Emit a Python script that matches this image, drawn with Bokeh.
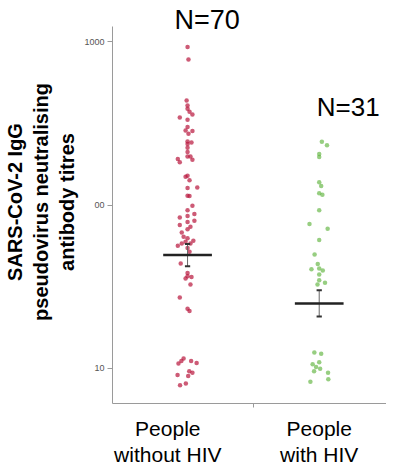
from bokeh.plotting import figure
from bokeh.models import Range1d, LinearAxis, FixedTicker, Label, ColumnDataSource
from bokeh.embed import file_html
from bokeh.resources import INLINE

# ---------------- data ----------------
group_x = [1, 2]
group_line1 = ["People", "People"]
group_line2 = ["without HIV", "with HIV"]
n_labels = ["N=70", "N=31"]

titres_without_hiv = [928, 776, 436, 407, 388, 372, 358, 343, 332, 300,
                      286, 284, 273, 245, 241, 236, 224, 211, 198, 198,
                      191.5, 189, 183, 151, 149, 142, 127, 128, 114, 113.6,
                      99, 93, 88, 85.6, 84, 80, 78.6, 75.4, 73.6, 71.2,
                      68, 63.9, 62.7, 60.4, 59.5, 58.2, 58.2, 56.3, 54.5, 51.7,
                      43.9, 38.4, 36.7, 36.3, 35.5, 32.6, 27.2, 23.2, 22.5,
                      11.5, 11.1, 11.1, 10.8, 10.7, 9.6, 9.4, 9.1, 9.0, 7.9, 8.1]
jitter_without_hiv = [0.0, 0.007, -0.007, 0.0, 0.0, 0.015, 0.037, -0.059, 0.0, 0.0,
                      -0.015, 0.037, 0.007, 0.0, 0.03, 0.0, 0.0, 0.0, 0.0, 0.022,
                      -0.074, 0.037, -0.059, 0.0, -0.015, 0.015, 0.0, 0.074, 0.0, 0.015,
                      0.037, 0.0, 0.052, 0.0, -0.059, 0.052, 0.0, -0.059, 0.022, 0.0,
                      -0.044, -0.03, 0.0, 0.044, -0.015, 0.022, -0.044, -0.074, 0.0, 0.015,
                      -0.052, 0.0, 0.0, 0.03, -0.015, 0.022, -0.059, 0.0, 0.015,
                      -0.03, -0.047, 0.027, 0.069, -0.069, 0.013, 0.037, -0.076, 0.005, -0.057, -0.013]

titres_with_hiv = [243.5, 232.5, 205.5, 197, 137.8, 130.8, 118, 115.7, 93, 76.5,
                   71.5, 61, 49.8, 43.5, 40.9, 40.5, 39.8, 37.6, 34.7, 33.4,
                   32.6, 12.5, 12.3, 10.9, 10.6, 10.2, 9.96, 9.6, 9.4, 8.6, 8.3]
jitter_with_hiv = [0.02, 0.059, 0.0, 0.0, 0.0, 0.015, 0.0, 0.024, 0.0, -0.074,
                   0.064, 0.0, -0.035, -0.011, 0.0, -0.059, 0.027, 0.0, 0.0, 0.044,
                   -0.013, -0.037, 0.015, 0.0, -0.05, -0.024, 0.007, -0.039, 0.067, 0.069, -0.067]

means = [49.4, 25.0]
ci_low = [42.2, 20.8]
ci_high = [57.7, 30.1]

y_ticks = [10, 100, 1000]
y_tick_labels = ["10", "00", "1000"]
y_axis_bounds = (6.1, 1236)

FONT = "Liberation Sans"

# ---------------- figure ----------------
p = figure(width=386, height=468, y_axis_type="log",
           x_range=Range1d(0.43, 2.511), y_range=Range1d(6.1, 1785),
           output_backend="svg", toolbar_location=None,
           min_border_left=105, min_border_right=0, min_border_top=0,
           min_border_bottom=0)
p.outline_line_color = None
p.xgrid.visible = False
p.ygrid.visible = False
p.background_fill_color = "white"

# y axis
ya = p.yaxis[0]
ya.bounds = y_axis_bounds
ya.ticker = FixedTicker(ticks=y_ticks, minor_ticks=[])
ya.major_label_overrides = {t: l for t, l in zip(y_ticks, y_tick_labels)}
ya.axis_line_color = "#9a9a9a"
ya.major_tick_line_color = "#9a9a9a"
ya.major_tick_out = 5
ya.major_tick_in = 0
ya.minor_tick_out = 0
ya.minor_tick_in = 0
ya.major_label_standoff = 3
ya.major_label_text_font = FONT
ya.major_label_text_font_size = "9px"
ya.major_label_text_color = "#555555"
ya.axis_label = "SARS-CoV-2 IgG\npseudovirus neutralising\nantibody titres"
ya.axis_label_text_font = FONT
ya.axis_label_text_font_style = "bold"
ya.axis_label_text_font_size = "20px"
ya.axis_label_text_color = "black"
ya.axis_label_standoff = 3

# x axis (first line of category labels)
xa = p.xaxis[0]
xa.ticker = FixedTicker(ticks=[0.85, 2.0], minor_ticks=[1.5])
xa.major_label_overrides = {0.85: group_line1[0], 2.0: group_line1[1]}
xa.axis_line_color = "#9a9a9a"
xa.major_tick_out = 0
xa.major_tick_in = 0
xa.minor_tick_out = 4
xa.minor_tick_in = 0
xa.minor_tick_line_color = "#9a9a9a"
xa.major_label_standoff = 9
xa.major_label_text_font = FONT
xa.major_label_text_font_size = "21px"
xa.major_label_text_color = "black"

# second line of category labels
xb = LinearAxis(ticker=FixedTicker(ticks=[0.85, 2.0], minor_ticks=[]),
                major_label_overrides={0.85: group_line2[0], 2.0: group_line2[1]})
xb.axis_line_color = None
xb.major_tick_out = 0
xb.major_tick_in = 0
xb.minor_tick_out = 0
xb.minor_tick_in = 0
xb.major_label_standoff = 0
xb.major_label_text_font = FONT
xb.major_label_text_font_size = "21px"
xb.major_label_text_color = "black"
p.add_layout(xb, "below")

# points
src1 = ColumnDataSource(dict(x=[group_x[0] + j for j in jitter_without_hiv], y=titres_without_hiv))
src2 = ColumnDataSource(dict(x=[group_x[1] + j for j in jitter_with_hiv], y=titres_with_hiv))
p.scatter("x", "y", source=src1, size=4.5, fill_color="#b8163c", fill_alpha=0.7, line_color=None)
p.scatter("x", "y", source=src2, size=4.5, fill_color="#5fb33e", fill_alpha=0.65, line_color=None)

# error bars
p.segment(x0=group_x, y0=ci_low, x1=group_x, y1=ci_high, line_color="#666666", line_width=1)
cap = 0.02
p.segment(x0=[g - cap for g in group_x], y0=ci_low, x1=[g + cap for g in group_x], y1=ci_low,
          line_color="#333333", line_width=2)
p.segment(x0=[g - cap for g in group_x], y0=ci_high, x1=[g + cap for g in group_x], y1=ci_high,
          line_color="#333333", line_width=2)
# means
half = 0.185
p.segment(x0=[g - half for g in group_x], y0=means, x1=[g + half for g in group_x], y1=means,
          line_color="#222222", line_width=2.5)

# N labels
p.add_layout(Label(x=1.148, y=1365, text=n_labels[0], text_align="center",
                   text_baseline="alphabetic", text_font=FONT, text_font_size="27px",
                   text_color="black"))
p.add_layout(Label(x=2.22, y=400, text=n_labels[1], text_align="center",
                   text_baseline="alphabetic", text_font=FONT, text_font_size="26px",
                   text_color="black"))

open("out.html", "w").write(file_html(p, INLINE))
